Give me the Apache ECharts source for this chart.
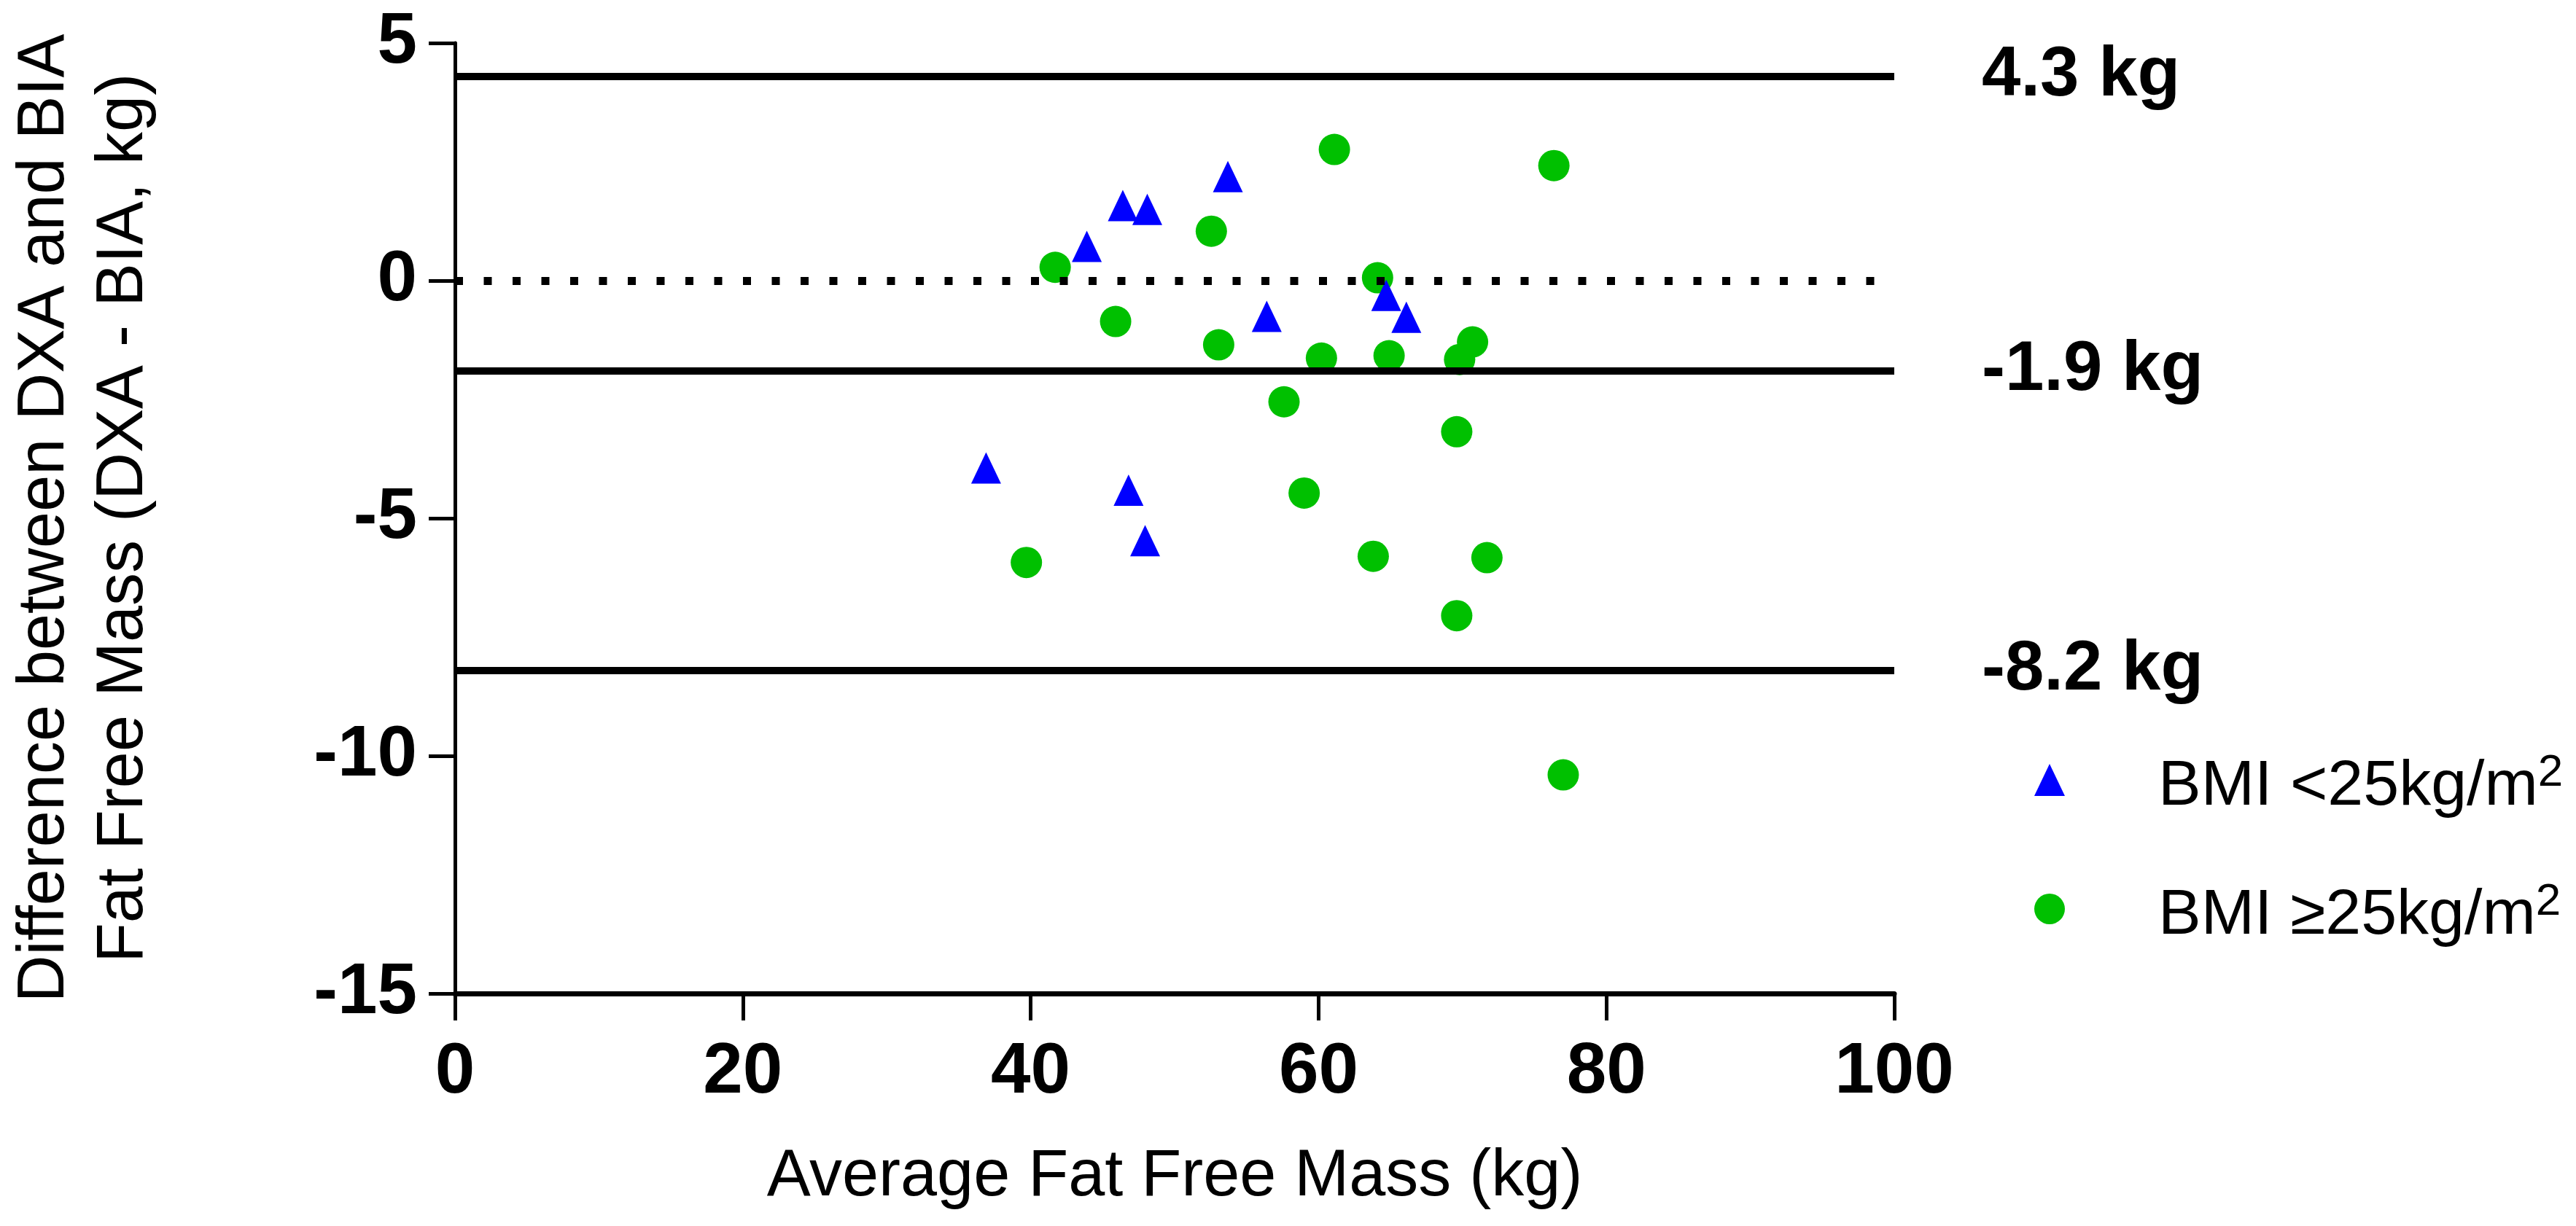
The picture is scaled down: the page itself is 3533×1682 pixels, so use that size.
<!DOCTYPE html>
<html>
<head>
<meta charset="utf-8">
<script src="https://cdn.jsdelivr.net/npm/echarts@6/dist/echarts.min.js"></script>
<style>
html,body{margin:0;padding:0;background:#fff;}
#chart{width:3533px;height:1682px;}
</style>
</head>
<body>
<div id="chart"></div>
<script>
// ---- data ----
const xTicks = [0, 20, 40, 60, 80, 100];
const yTicks = [-15, -10, -5, 0, 5];

const blueName = 'BMI <25kg/m2';
const greenName = 'BMI \u226525kg/m2';

const blueX = [36.9, 43.9, 46.4, 46.8, 47.95, 48.1, 53.7, 56.4, 64.7, 66.1];
const blueY = [-3.94, 0.72, 1.58, -4.41, -5.47, 1.50, 2.19, -0.75, -0.31, -0.77];

const greenX = [39.7, 41.7, 45.9, 52.55, 53.06, 57.6, 59.0, 60.2, 61.1, 63.8, 64.1, 64.9, 69.6, 69.6, 69.8, 70.7, 71.7, 76.35, 77.0];
const greenY = [-5.93, 0.28, -0.86, 1.04, -1.35, -2.55, -4.47, -1.63, 2.76, -5.80, 0.06, -1.58, -3.18, -7.05, -1.66, -1.29, -5.83, 2.42, -10.40];

const limitLines = [4.3, -1.9, -8.2];   // upper LoA, bias, lower LoA
const zeroLine = 0;

// ---- chart ----
const FONT = "'Liberation Sans', Arial, Helvetica, sans-serif";
const pair = (xs, ys) => xs.map((x, i) => [x, ys[i]]);

const chart = echarts.init(document.getElementById('chart'), null, {renderer: 'canvas'});

chart.setOption({
  animation: false,
  backgroundColor: '#ffffff',
  grid: {left: 619, top: 59, right: 935, bottom: 319, containLabel: false},
  xAxis: {
    type: 'value',
    min: xTicks[0], max: xTicks[xTicks.length - 1], interval: xTicks[1] - xTicks[0],
    name: 'Average Fat Free Mass (kg)',
    nameLocation: 'middle',
    nameGap: 207,
    nameTextStyle: {fontFamily: FONT, fontSize: 90, color: '#000', fontWeight: 'normal'},
    axisLine: {show: true, onZero: false, lineStyle: {color: '#000', width: 7}},
    axisTick: {show: true, inside: false, length: 37, lineStyle: {color: '#000', width: 5}},
    axisLabel: {fontFamily: FONT, fontSize: 98, fontWeight: 'bold', color: '#000', margin: 60},
    splitLine: {show: false}
  },
  yAxis: {
    type: 'value',
    min: yTicks[0], max: yTicks[yTicks.length - 1], interval: yTicks[1] - yTicks[0],
    name: 'Difference between DXA and BIA\nFat Free Mass (DXA - BIA, kg)',
    nameLocation: 'middle',
    nameGap: 400,
    nameTextStyle: {fontFamily: FONT, fontSize: 90, lineHeight: 108, color: '#000', fontWeight: 'normal'},
    axisLine: {show: true, onZero: false, lineStyle: {color: '#000', width: 5}},
    axisTick: {show: true, inside: false, length: 36, lineStyle: {color: '#000', width: 5}},
    axisLabel: {fontFamily: FONT, fontSize: 98, fontWeight: 'bold', color: '#000', margin: 52},
    splitLine: {show: false}
  },
  legend: {
    orient: 'vertical',
    left: 2790,
    top: 1010,
    padding: 0,
    itemGap: 57,
    itemWidth: 42,
    itemHeight: 44,
    selectedMode: false,
    data: [
      {name: blueName, icon: 'triangle'},
      {name: greenName, icon: 'circle'}
    ],
    formatter: (name) => name.replace(/2$/, '{sup|2}'),
    textStyle: {
      fontFamily: FONT, fontSize: 88, lineHeight: 100, color: '#000',
      padding: [20, 0, 0, 123],
      rich: {
        sup: {fontFamily: FONT, fontSize: 62, lineHeight: 34, verticalAlign: 'top', color: '#000'}
      }
    }
  },
  series: [
    {
      name: 'reference lines',
      type: 'scatter',
      data: [],
      z: 1,
      silent: true,
      markLine: {
        silent: true,
        symbol: ['none', 'none'],
        animation: false,
        data: [
          ...limitLines.map(v => ({
            yAxis: v,
            lineStyle: {color: '#000', width: 10, type: 'solid'},
            label: {
              show: true, position: 'end', distance: 120,
              formatter: v + ' kg',
              fontFamily: FONT, fontSize: 96, fontWeight: 'bold', color: '#000'
            }
          })),
          {
            yAxis: zeroLine,
            lineStyle: {color: '#000', width: 11, type: [11, 28.5], cap: 'butt'},
            label: {show: false}
          }
        ]
      }
    },
    {
      name: greenName,
      type: 'scatter',
      z: 2,
      symbol: 'circle',
      symbolSize: 43,
      itemStyle: {color: '#00c000', opacity: 1},
      data: pair(greenX, greenY)
    },
    {
      name: blueName,
      type: 'scatter',
      z: 3,
      symbol: 'triangle',
      symbolSize: [41, 43],
      itemStyle: {color: '#0000ff', opacity: 1},
      data: pair(blueX, blueY)
    }
  ]
});
</script>
</body>
</html>
